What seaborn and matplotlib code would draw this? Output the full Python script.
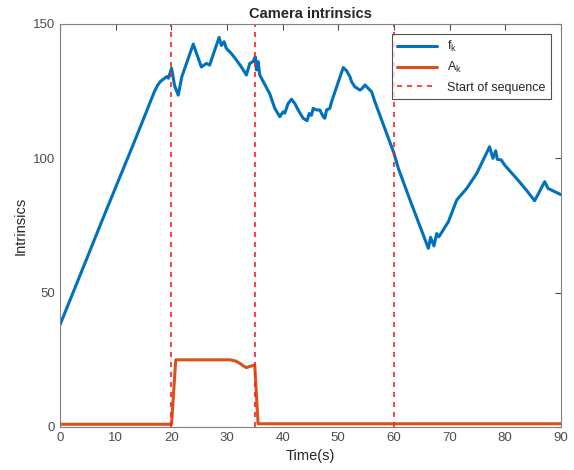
import pandas as pd
import seaborn as sns
import matplotlib.pyplot as plt

# f_k trace (time in s, value)
f_time = [0, 5, 7.5, 10, 13, 15, 17, 17.5, 18, 18.6, 19.2, 19.5,
          20.05, 20.6, 21.25, 21.9, 23.95, 25.4, 26.3, 26.9, 27.5, 28.6, 29.0, 29.5,
          29.9, 30.8, 31.7, 32.6, 33.5, 34.1, 34.7, 35.1, 35.3, 35.6, 35.9, 37.7,
          38.6, 39.5, 40.1, 40.4, 41.0, 41.6, 42.2, 42.8, 43.7, 44.4, 44.8, 45.2,
          45.5, 46.1, 46.7, 47.3, 47.6, 47.9, 48.5, 48.8, 50.9, 51.5, 52.1, 52.4,
          53.0, 53.9, 54.3, 54.8, 55.4, 56.0, 56.6, 60.0, 60.8, 62.9, 66.2, 66.6,
          67.2, 67.7, 68.1, 69.8, 71.3, 73.1, 74.9, 77.2, 77.8, 78.3, 78.6, 79.3,
          79.9, 82.3, 83.8, 85.3, 87.1, 87.7, 90.0]
f_vals = [38, 63.6, 76.5, 89.2, 104.3, 114.6, 125, 127, 128.5,
          129.5, 130.4, 129.8, 133.5, 127, 123.5, 130.4, 142.5, 134, 135.3, 134.7,
          138.4, 145, 142, 143.4, 140.9, 139, 136.6, 134, 131, 135.3, 136, 137.8,
          132.9, 136, 131, 124, 118.6, 115.5, 117.3, 116.8, 120.4, 122, 120.4, 118,
          114.9, 114, 116.7, 116, 118.6, 118, 118, 115.5, 114.9, 118, 118.6, 121,
          133.8, 132.6, 130.4, 128.5, 126.6, 125.4, 126, 127.3, 126, 124.8, 121,
          102, 96.3, 84.5, 66.5, 70.6, 67.4, 72, 70.8, 76.4, 84.5, 88.8, 94.4, 104.3,
          100, 102.8, 99.6, 99.4, 97.5, 91.9, 88.2, 84.2, 91.3, 88.8, 86.5]

# A_k trace
a_time = [0, 20.05, 20.8, 30.5, 31.5, 32.3, 32.9, 33.5, 34.2, 35.0, 35.6, 90]
a_vals = [1, 1, 25, 25, 24.6, 23.7, 22.8, 22.1, 22.6, 23.1, 1.2, 1.2]

seq_starts = [20, 35, 60]

f_df = pd.DataFrame({"Time": f_time, "Value": f_vals})
a_df = pd.DataFrame({"Time": a_time, "Value": a_vals})

sns.set_style("white")
plt.rcParams["font.family"] = ["Liberation Sans", "DejaVu Sans"]
plt.rcParams["mathtext.fontset"] = "custom"
plt.rcParams["mathtext.rm"] = "Liberation Sans"
plt.rcParams["mathtext.it"] = "Liberation Sans"

fig = plt.figure(figsize=(5.74, 4.70), dpi=100)
ax = fig.add_axes([0.1045, 0.0915, 0.8725, 0.8575])

sns.lineplot(data=f_df, x="Time", y="Value", color="#0072BD", linewidth=2.2,
             ax=ax, label="f$_\\mathregular{k}$")
sns.lineplot(data=a_df, x="Time", y="Value", color="#D95319", linewidth=2.2,
             ax=ax, label="A$_\\mathregular{k}$")
for i, s in enumerate(seq_starts):
    ax.axvline(s, color="#FF2020", linestyle=(0, (3, 3)), linewidth=1.2,
               label="Start of sequence" if i == 0 else None)

ax.set_xlim(0, 90)
ax.set_ylim(0, 150)
ax.set_xticks(range(0, 91, 10))
ax.set_yticks([0, 50, 100, 150])
ax.set_xlabel("Time(s)", fontsize=10.5, color="#262626")
ax.set_ylabel("Intrinsics", fontsize=10.5, color="#262626")
ax.set_title("Camera intrinsics", fontsize=10.5, fontweight="bold", pad=4)
ax.tick_params(direction="in", length=4, top=True, right=True,
               labelsize=9.5, colors="#4d4d4d")
for sp in ax.spines.values():
    sp.set_color("#808080")
    sp.set_linewidth(0.8)

leg = ax.legend(loc="upper right", fontsize=9, frameon=True, fancybox=False,
                edgecolor="#262626", handlelength=3.2, borderaxespad=0.8)
leg.get_frame().set_linewidth(0.8)

plt.savefig("out.png", dpi=100)
plt.close()
